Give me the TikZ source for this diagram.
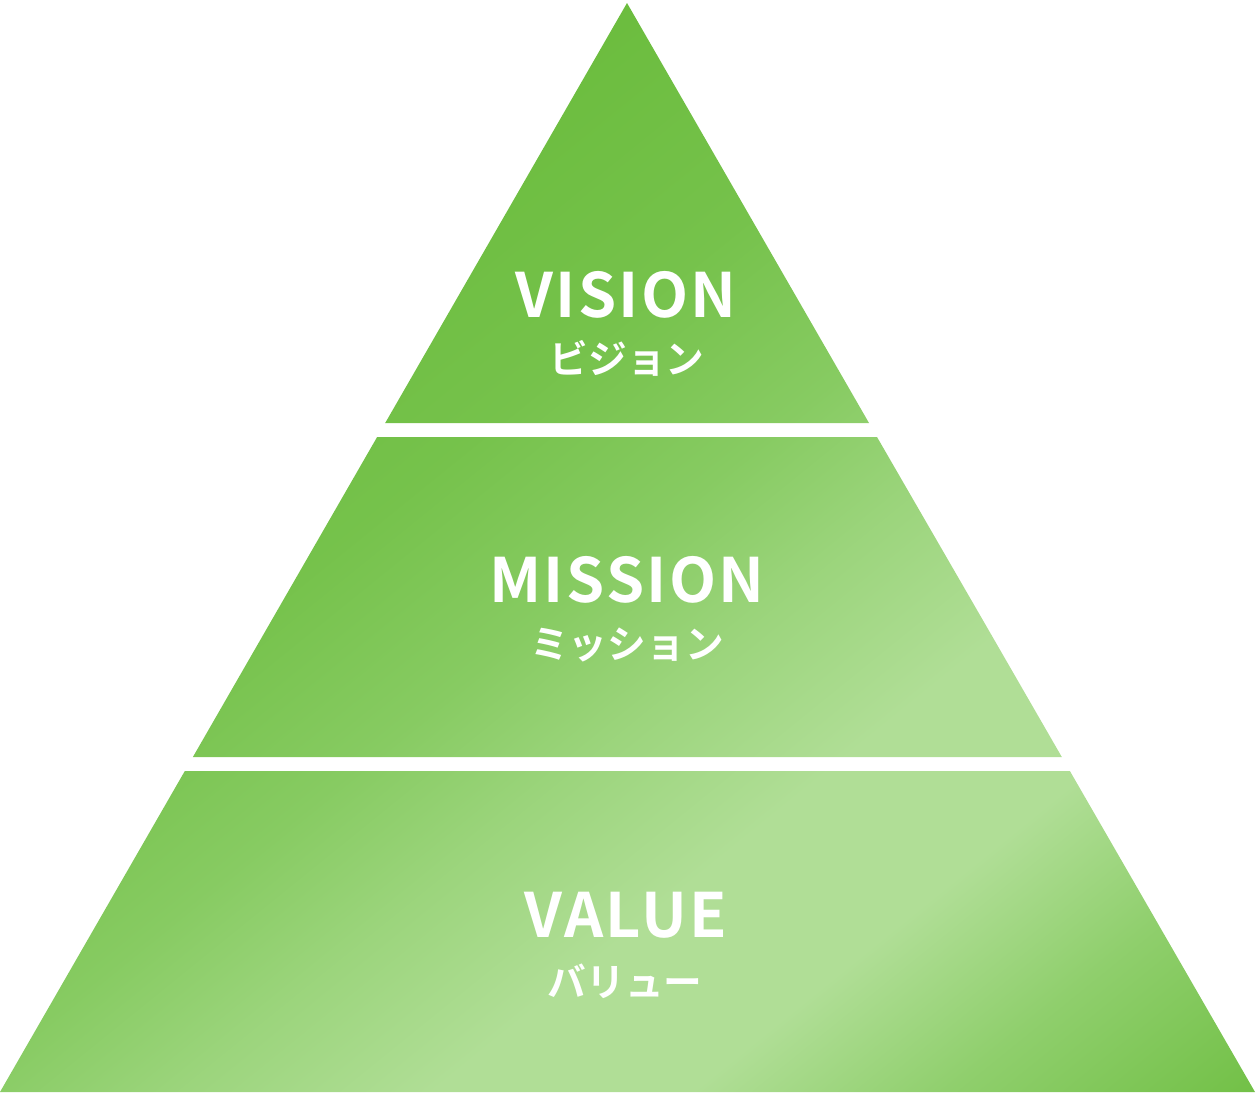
\documentclass[tikz,border=0pt]{standalone}
\usepackage{fontspec}
\newfontfamily\jpfont{Noto Sans CJK JP}[BoldFont={Noto Sans CJK JP Bold}, LetterSpace=4]
\newfontfamily\kanafont{Noto Sans CJK JP}[BoldFont={Noto Sans CJK JP Bold}]
\usetikzlibrary{calc}

\definecolor{pyrdark}{RGB}{106,188,60}
\definecolor{pyrmid}{RGB}{135,203,98}
\definecolor{pyrlight}{RGB}{176,222,150}
\pgfdeclarehorizontalshading{pyramid}{100bp}{%
  color(0bp)=(pyrdark); color(30bp)=(pyrdark);
  color(42bp)=(pyrdark!60!pyrmid); color(50bp)=(pyrmid);
  color(56bp)=(pyrmid!50!pyrlight); color(63bp)=(pyrlight);
  color(70bp)=(pyrlight); color(77bp)=(pyrmid!80!pyrlight);
  color(86bp)=(pyrdark!80!pyrmid); color(100bp)=(pyrdark)}

\tikzset{
  title/.style={text=white, font=\jpfont\bfseries\fontsize{17.4}{20}\selectfont, anchor=base},
  subtitle/.style={text=white, font=\kanafont\bfseries\fontsize{11}{13}\selectfont}
}

\begin{document}
\begin{tikzpicture}[x=0.01cm, y=-0.01cm]
    \useasboundingbox (0,0) rectangle (1258,1096);
    % Three tiers, one shading across all
    \begin{scope}
        \clip (627,3) -- (869,423) -- (385,423) -- cycle
              (377,437) -- (877,437) -- (1062,757) -- (192,757) -- cycle
              (184,771) -- (1070,771) -- (1255,1092) -- (0,1092) -- cycle;
        \shade[shading=pyramid, shading angle=-51] (627,3) -- (1255,1092) -- (0,1092) -- cycle;
    \end{scope}

    % Labels
    \node[title] (vision) at (626,317) {VISION};
    \node[subtitle] (visionjp) at (627,358) {ビジョン};
    \node[title] (mission) at (627,602) {MISSION};
    \node[subtitle] (missionjp) at (627,645) {ミッション};
    \node[title] (value) at (626,937) {VALUE};
    \node[subtitle] (valuejp) at (625,981) {バリュー};
\end{tikzpicture}
\end{document}
